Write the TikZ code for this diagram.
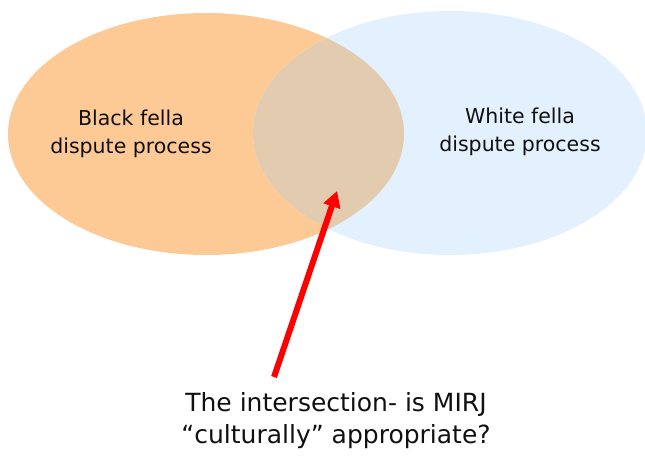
\documentclass[tikz,border=0pt]{standalone}
\usepackage{fontspec}
\setmainfont{DejaVu Sans}
\usetikzlibrary{arrows.meta}
\definecolor{peach}{HTML}{FDCA96}
\definecolor{skyfill}{HTML}{E3F0FD}
\definecolor{overlapfill}{HTML}{E3CBB0}
\definecolor{inktext}{HTML}{101010}
\begin{document}
\begin{tikzpicture}[x=1pt,y=-1pt,
  label/.style={align=center,text=inktext,font=\fontsize{20.5}{28}\selectfont,inner sep=0pt},
  caption/.style={align=center,text=inktext,font=\fontsize{25}{32}\selectfont,inner sep=0pt},
  pointer/.style={draw=red,line width=6pt,-{Triangle[length=16pt,width=17pt]}}]
\useasboundingbox (0,0) rectangle (645,455);
% the two sets
\fill[peach] (206,134) ellipse [x radius=198,y radius=121];
\fill[skyfill] (450,133) ellipse [x radius=197,y radius=122];
% their overlap
\begin{scope}
  \clip (206,134) ellipse [x radius=198,y radius=121];
  \fill[overlapfill] (450,133) ellipse [x radius=197,y radius=122];
\end{scope}
% labels
\node[label] (black) at (131,134) {Black fella\\dispute process};
\node[label] (white) at (520,132) {White fella\\dispute process};
\node[caption] (question) at (336,421) {The intersection- is MIRJ\\“culturally” appropriate?};
% pointer into the overlap
\coordinate (tail) at (274,377);
\coordinate (tip) at (337,191);
\draw[pointer] (tail) -- (tip);
\end{tikzpicture}
\end{document}
